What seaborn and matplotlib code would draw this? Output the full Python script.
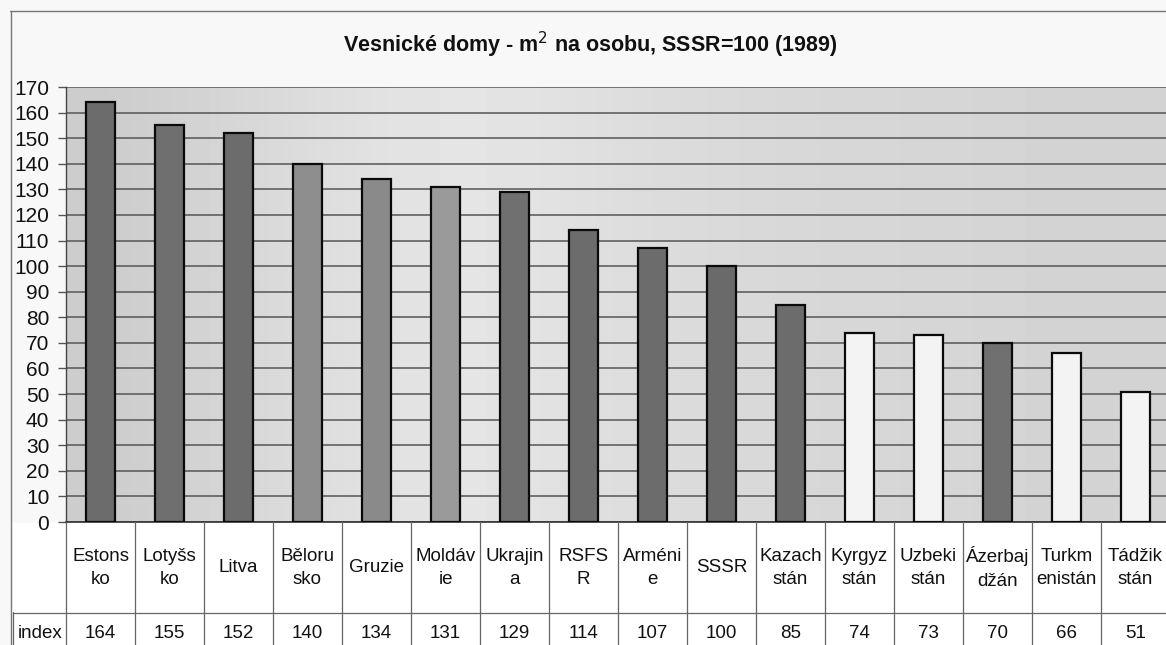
import numpy as np
import matplotlib
matplotlib.use("Agg")
import matplotlib.pyplot as plt
import matplotlib.transforms as mtransforms
import seaborn as sns

# ---- data ----
categories = ["Estonsko", "Lotyšsko", "Litva", "Bělorusko", "Gruzie", "Moldávie",
              "Ukrajina", "RSFSR", "Arménie", "SSSR", "Kazachstán", "Kyrgyzstán",
              "Uzbekistán", "Ázerbajdžán", "Turkmenistán", "Tádžikstán"]
table_labels = ["Estons\nko", "Lotyšs\nko", "Litva", "Běloru\nsko", "Gruzie", "Moldáv\nie",
                "Ukrajin\na", "RSFS\nR", "Arméni\ne", "SSSR", "Kazach\nstán", "Kyrgyz\nstán",
                "Uzbeki\nstán", "Ázerbaj\ndžán", "Turkm\nenistán", "Tádžik\nstán"]
values = [164, 155, 152, 140, 134, 131, 129, 114, 107, 100, 85, 74, 73, 70, 66, 51]
bar_colors = ["#6c6c6c", "#6f6f6f", "#6c6c6c", "#8e8e8e", "#8a8a8a", "#9a9a9a",
              "#707070", "#6c6c6c", "#6c6c6c", "#6a6a6a", "#6c6c6c", "#f3f3f3",
              "#f3f3f3", "#707070", "#f3f3f3", "#f3f3f3"]
yticks = list(range(0, 171, 10))
title = "Vesnické domy - m$^2$ na osobu, SSSR=100 (1989)"
row_label = "index"

sns.set_theme(style="white")
plt.rcParams["font.family"] = ["Liberation Sans", "DejaVu Sans"]

W, H = 1166, 645
fig = plt.figure(figsize=(W / 100, H / 100), dpi=100)
fig.patch.set_facecolor("#f8f8f8")

def fx(px):
    return px / W

def fy(py):
    return 1 - py / H

ax = fig.add_axes([fx(66), fy(522), fx(1170) - fx(66), fy(87) - fy(522)])

# plot-area background gradient (decoration)
grad = np.array([[0.80, 0.83, 0.86, 0.89, 0.90, 0.88, 0.86, 0.85, 0.84, 0.84, 0.83, 0.83]])
ax.imshow(grad, cmap="gray", vmin=0, vmax=1, extent=[0, 1, 0, 1],
          transform=ax.transAxes, aspect="auto", zorder=-1, interpolation="bicubic")

sns.barplot(x=categories, y=values, hue=categories, palette=bar_colors,
            width=0.43, edgecolor="#0a0a0a", linewidth=1.6, legend=False,
            ax=ax, zorder=3)

ax.set_xlim(-0.5, len(categories) - 0.5)
ax.set_ylim(0, 170)
ax.set_yticks(yticks)
ax.set_yticklabels([str(t) for t in yticks], fontsize=15, color="#111111")
ax.yaxis.grid(True, color="#555555", linewidth=1.1)
ax.set_axisbelow(True)
ax.tick_params(axis="y", which="major", left=True, length=6, width=1,
               color="#555555", pad=6)
ax.set_xticks([])
ax.set_xlabel("")
ax.set_ylabel("")
for s in ["top", "right"]:
    ax.spines[s].set_visible(False)
ax.spines["left"].set_color("#444444")
ax.spines["left"].set_linewidth(1.0)
ax.spines["bottom"].set_color("#333333")
ax.spines["bottom"].set_linewidth(1.2)

# title
fig.text(fx(590), fy(45), title, ha="center", va="center",
         fontsize=15.5, fontweight="bold", color="#111111")

# outer chart frame
fig.add_artist(plt.Line2D([fx(10), fx(1166)], [fy(11), fy(11)],
                          color="#777777", lw=1.0))
fig.add_artist(plt.Line2D([fx(11), fx(11)], [fy(11), fy(645)],
                          color="#777777", lw=1.0))

# data table below the axis
tr = mtransforms.blended_transform_factory(ax.transData, fig.transFigure)
fig.add_artist(plt.Rectangle((fx(12), 0), fx(1166) - fx(12), fy(523),
                             transform=fig.transFigure, facecolor="white",
                             edgecolor="none", zorder=0))
for i in range(len(categories) + 1):
    fig.add_artist(plt.Line2D([i - 0.5, i - 0.5], [fy(522), 0], transform=tr,
                              color="#666666", lw=0.9))
fig.add_artist(plt.Line2D([fx(13), fx(1166)], [fy(613), fy(613)],
                          color="#666666", lw=0.9))
fig.add_artist(plt.Line2D([fx(13), fx(13)], [fy(612), 0],
                          color="#666666", lw=0.9))

for i, (lab, v) in enumerate(zip(table_labels, values)):
    ax.text(i, fy(568), lab, transform=tr, ha="center", va="center",
            fontsize=13.5, color="#111111", linespacing=1.5)
    ax.text(i, fy(633), str(v), transform=tr, ha="center", va="center",
            fontsize=13.5, color="#111111")
fig.text(fx(40), fy(633), row_label, ha="center", va="center",
         fontsize=13.5, color="#111111")

fig.savefig("out.png", dpi=100, facecolor=fig.get_facecolor())
